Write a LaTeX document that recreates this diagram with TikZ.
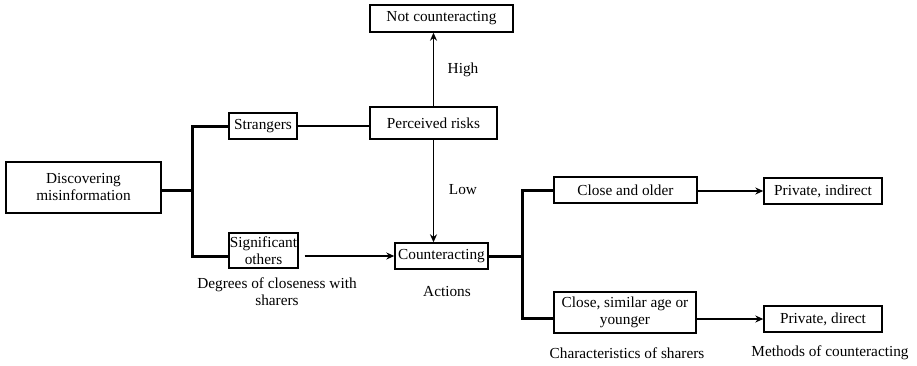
\documentclass[tikz,border=0pt]{standalone}
\usepackage{fontspec}
\setmainfont{Liberation Serif}
\usetikzlibrary{arrows.meta}
\begin{document}
\begin{tikzpicture}[x=1pt,y=-1pt,
  box/.style={draw, line width=1.4pt, inner sep=0pt, align=center, font=\fontsize{15.3}{17}\selectfont},
  lbl/.style={inner sep=0pt, align=center, font=\fontsize{15.3}{17}\selectfont},
  thin/.style={line width=1.3pt},
  arr/.style={line width=1.3pt, -{Stealth[length=8pt,width=7pt]}},
  brk/.style={line width=3pt}]
\useasboundingbox (0,0) rectangle (917,365);
\node[box, minimum width=155pt, minimum height=51pt] (disc) at (83.5,187.5) {Discovering\\misinformation};
\node[box, minimum width=68pt, minimum height=26pt] (str) at (263,126) {Strangers};
\node[box, minimum width=69pt, minimum height=35pt] (sig) at (263.5,250.5) {Significant\\others};
\node[box, minimum width=127pt, minimum height=32pt] (risk) at (433.5,123) {Perceived risks};
\node[box, minimum width=143pt, minimum height=27pt] (notc) at (441.5,18.5) {Not counteracting};
\node[box, minimum width=93pt, minimum height=26pt] (cnt) at (441.5,256) {Counteracting};
\node[box, minimum width=143pt, minimum height=26pt] (old) at (625.5,190) {Close and older};
\node[box, minimum width=142pt, minimum height=41pt] (sim) at (625,312.5) {Close, similar age or\\younger};
\node[box, minimum width=118pt, minimum height=26pt] (ind) at (823,191) {Private, indirect};
\node[box, minimum width=118pt, minimum height=26pt] (dir) at (823,319) {Private, direct};

\node[lbl] (high) at (463,70) {High};
\node[lbl] (low) at (463,190) {Low};
\node[lbl] (deg) at (277,291.5) {Degrees of closeness with\\sharers};
\node[lbl] (act) at (447,292) {Actions};
\node[lbl] (chr) at (627,353) {Characteristics of sharers};
\node[lbl] (met) at (830,353) {Methods of counteracting};

\coordinate (bl) at (192,190);
\coordinate (br) at (522,256);
\draw[brk] (disc.east |- bl) -- (bl);
\draw[brk] (str.west) -| (bl) |- ([yshift=-5.5pt]sig.west);
\draw[brk] (cnt.east) -- (br);
\draw[brk] (old.west) -| (br) |- ([yshift=-5.5pt]sim.west);

\draw[thin] (str.east) -- (str.east -| risk.west);
\draw[arr] (risk.north) -- (risk.north |- notc.south);
\draw[arr] (risk.south) -- (risk.south |- cnt.north);
\draw[arr] ([xshift=6pt]sig.east |- cnt.west) -- (cnt.west);
\draw[arr] (old.east |- ind.west) -- (ind.west);
\draw[arr] (sim.east |- dir.west) -- (dir.west);
\end{tikzpicture}
\end{document}
